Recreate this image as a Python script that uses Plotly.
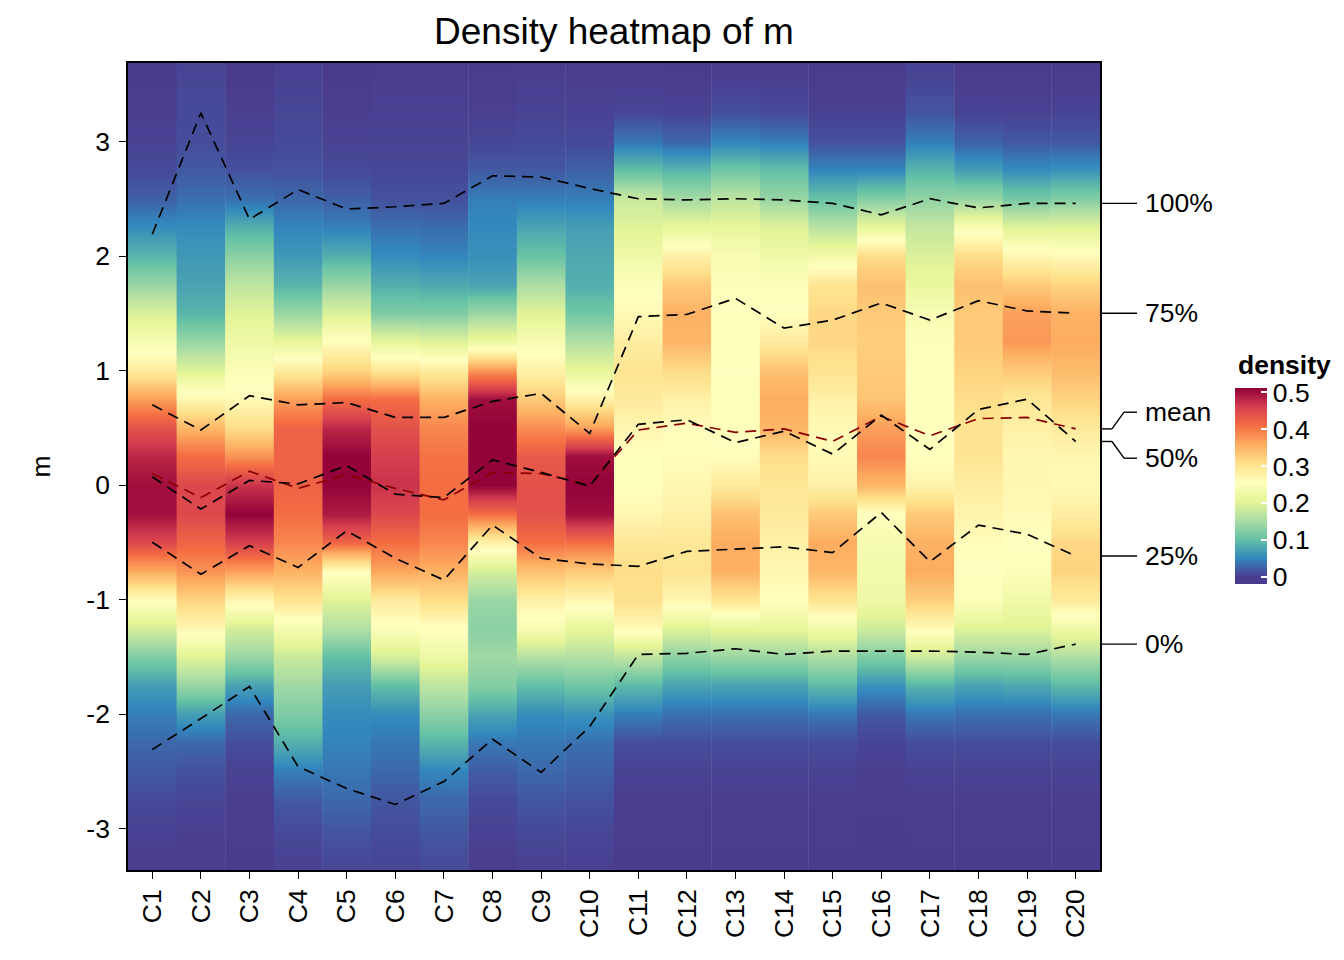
import plotly.graph_objects as go

# ---------------- data ----------------
CATEGORIES = ["C1", "C2", "C3", "C4", "C5", "C6", "C7", "C8", "C9", "C10",
              "C11", "C12", "C13", "C14", "C15", "C16", "C17", "C18", "C19", "C20"]

# density evaluation grid (top -> bottom)
Y_GRID = [3.75, 3.5, 3.25, 3.0, 2.75, 2.5, 2.25, 2.0, 1.75, 1.5,
          1.25, 1.0, 0.75, 0.5, 0.25, 0.0, -0.25, -0.5, -0.75, -1.0,
          -1.25, -1.5, -1.75, -2.0, -2.25, -2.5, -2.75, -3.0, -3.25, -3.5]

c1_density = [0, 0, 0.002, 0.005, 0.01, 0.025, 0.055, 0.09, 0.14, 0.195,
              0.24, 0.29, 0.37, 0.44, 0.48, 0.50, 0.50, 0.45, 0.36, 0.26,
              0.19, 0.12, 0.07, 0.045, 0.03, 0.02, 0.01, 0.005, 0.002, 0]
c2_density = [0.005, 0.008, 0.01, 0.012, 0.02, 0.035, 0.055, 0.065, 0.075, 0.09,
              0.14, 0.2, 0.27, 0.35, 0.41, 0.45, 0.45, 0.42, 0.38, 0.32,
              0.27, 0.20, 0.14, 0.07, 0.03, 0.015, 0.007, 0.003, 0.001, 0]
c3_density = [0, 0, 0.003, 0.006, 0.015, 0.035, 0.085, 0.13, 0.17, 0.2,
              0.225, 0.245, 0.265, 0.31, 0.38, 0.47, 0.51, 0.46, 0.37, 0.27,
              0.19, 0.14, 0.075, 0.03, 0.012, 0.005, 0.002, 0.001, 0, 0]
c4_density = [0.003, 0.005, 0.008, 0.01, 0.015, 0.03, 0.05, 0.065, 0.09, 0.14,
              0.21, 0.29, 0.37, 0.42, 0.42, 0.42, 0.41, 0.39, 0.355, 0.30,
              0.235, 0.18, 0.145, 0.12, 0.085, 0.045, 0.02, 0.01, 0.005, 0.002]
c5_density = [0, 0, 0.002, 0.005, 0.01, 0.025, 0.045, 0.085, 0.14, 0.195,
              0.26, 0.32, 0.41, 0.48, 0.51, 0.51, 0.49, 0.42, 0.26, 0.2,
              0.16, 0.10, 0.07, 0.055, 0.048, 0.04, 0.03, 0.018, 0.01, 0.005]
c6_density = [0, 0.002, 0.004, 0.006, 0.008, 0.015, 0.035, 0.055, 0.085, 0.12,
              0.21, 0.30, 0.41, 0.44, 0.46, 0.47, 0.45, 0.41, 0.365, 0.29,
              0.25, 0.19, 0.10, 0.055, 0.04, 0.03, 0.018, 0.012, 0.008, 0.005]
c7_density = [0, 0.002, 0.004, 0.006, 0.008, 0.015, 0.033, 0.05, 0.08, 0.12,
              0.2, 0.29, 0.355, 0.39, 0.405, 0.41, 0.41, 0.39, 0.355, 0.31,
              0.255, 0.22, 0.17, 0.13, 0.09, 0.05, 0.03, 0.02, 0.012, 0.008]
c8_density = [0, 0.001, 0.003, 0.008, 0.02, 0.045, 0.053, 0.058, 0.075, 0.14,
              0.22, 0.38, 0.5, 0.51, 0.51, 0.51, 0.41, 0.28, 0.19, 0.14,
              0.13, 0.145, 0.125, 0.075, 0.04, 0.022, 0.01, 0.005, 0.002, 0]
c9_density = [0, 0.003, 0.006, 0.01, 0.02, 0.045, 0.075, 0.105, 0.155, 0.2,
              0.24, 0.28, 0.33, 0.385, 0.43, 0.44, 0.44, 0.41, 0.34, 0.28,
              0.24, 0.16, 0.10, 0.055, 0.04, 0.03, 0.018, 0.01, 0.005, 0.002]
c10_density = [0, 0.002, 0.005, 0.01, 0.025, 0.045, 0.07, 0.08, 0.085, 0.11,
               0.16, 0.21, 0.28, 0.37, 0.5, 0.51, 0.50, 0.41, 0.33, 0.27,
               0.21, 0.16, 0.11, 0.06, 0.035, 0.025, 0.015, 0.008, 0.004, 0.002]
c11_density = [0, 0.002, 0.008, 0.04, 0.1, 0.18, 0.2, 0.225, 0.25, 0.265,
               0.285, 0.3, 0.29, 0.27, 0.255, 0.255, 0.27, 0.295, 0.31, 0.305,
               0.265, 0.17, 0.095, 0.045, 0.012, 0.005, 0.002, 0.001, 0, 0]
c12_density = [0, 0.001, 0.006, 0.03, 0.09, 0.15, 0.21, 0.28, 0.33, 0.355,
               0.35, 0.31, 0.28, 0.26, 0.26, 0.27, 0.28, 0.295, 0.30, 0.27,
               0.2, 0.13, 0.075, 0.035, 0.012, 0.005, 0.002, 0.001, 0, 0]
c13_density = [0, 0.003, 0.015, 0.05, 0.11, 0.17, 0.21, 0.24, 0.25, 0.255,
               0.255, 0.255, 0.25, 0.25, 0.26, 0.29, 0.34, 0.36, 0.355, 0.30,
               0.21, 0.14, 0.075, 0.035, 0.012, 0.005, 0.002, 0.001, 0, 0]
c14_density = [0, 0.003, 0.01, 0.045, 0.1, 0.14, 0.2, 0.225, 0.25, 0.255,
               0.29, 0.34, 0.36, 0.35, 0.31, 0.295, 0.29, 0.28, 0.27, 0.255,
               0.21, 0.14, 0.075, 0.035, 0.012, 0.005, 0.002, 0.001, 0, 0]
c15_density = [0, 0.001, 0.004, 0.015, 0.05, 0.105, 0.165, 0.23, 0.3, 0.315,
               0.315, 0.3, 0.28, 0.265, 0.265, 0.28, 0.33, 0.36, 0.35, 0.30,
               0.23, 0.155, 0.095, 0.04, 0.012, 0.005, 0.002, 0.001, 0, 0]
c16_density = [0, 0.001, 0.004, 0.015, 0.05, 0.125, 0.21, 0.31, 0.34, 0.33,
               0.325, 0.33, 0.335, 0.37, 0.39, 0.35, 0.255, 0.235, 0.23, 0.225,
               0.185, 0.12, 0.06, 0.02, 0.006, 0.002, 0.001, 0, 0, 0]
c17_density = [0.004, 0.008, 0.018, 0.045, 0.09, 0.135, 0.175, 0.195, 0.215, 0.24,
               0.25, 0.255, 0.255, 0.255, 0.255, 0.275, 0.33, 0.355, 0.36, 0.325,
               0.265, 0.18, 0.09, 0.04, 0.012, 0.005, 0.002, 0.001, 0, 0]
c18_density = [0, 0.001, 0.006, 0.025, 0.07, 0.14, 0.24, 0.31, 0.34, 0.33,
               0.33, 0.32, 0.31, 0.3, 0.3, 0.285, 0.275, 0.26, 0.255, 0.25,
               0.2, 0.14, 0.075, 0.035, 0.012, 0.005, 0.002, 0.001, 0, 0]
c19_density = [0, 0.001, 0.005, 0.02, 0.055, 0.115, 0.2, 0.27, 0.33, 0.37,
               0.375, 0.33, 0.295, 0.28, 0.27, 0.27, 0.265, 0.255, 0.25, 0.225,
               0.2, 0.14, 0.08, 0.035, 0.012, 0.005, 0.002, 0.001, 0, 0]
c20_density = [0, 0.001, 0.006, 0.02, 0.06, 0.125, 0.2, 0.265, 0.32, 0.355,
               0.36, 0.345, 0.32, 0.29, 0.27, 0.265, 0.285, 0.315, 0.32, 0.29,
               0.225, 0.155, 0.095, 0.04, 0.012, 0.005, 0.002, 0.001, 0, 0]

q100 = [2.19, 3.25, 2.32, 2.58, 2.41, 2.43, 2.46, 2.70, 2.69, 2.59,
        2.50, 2.49, 2.50, 2.49, 2.46, 2.36, 2.50, 2.42, 2.46, 2.46]
q75 = [0.70, 0.48, 0.78, 0.70, 0.72, 0.59, 0.59, 0.73, 0.80, 0.45,
       1.47, 1.49, 1.63, 1.37, 1.44, 1.59, 1.44, 1.61, 1.52, 1.50]
q50 = [0.07, -0.21, 0.04, 0.01, 0.17, -0.08, -0.11, 0.22, 0.11, -0.01,
       0.53, 0.57, 0.37, 0.47, 0.27, 0.61, 0.31, 0.66, 0.75, 0.38]
mean_vals = [0.10, -0.11, 0.12, -0.03, 0.09, -0.03, -0.13, 0.11, 0.10, 0.00,
             0.48, 0.54, 0.46, 0.49, 0.38, 0.60, 0.43, 0.58, 0.59, 0.49]
q25 = [-0.50, -0.78, -0.53, -0.72, -0.40, -0.64, -0.83, -0.35, -0.64, -0.69,
       -0.71, -0.58, -0.56, -0.54, -0.59, -0.24, -0.67, -0.35, -0.43, -0.62]
q0 = [-2.31, -2.04, -1.76, -2.46, -2.65, -2.79, -2.59, -2.22, -2.51, -2.11,
      -1.48, -1.47, -1.43, -1.48, -1.45, -1.45, -1.45, -1.46, -1.48, -1.39]

Y_TICKS = [-3, -2, -1, 0, 1, 2, 3]
LEGEND_TICKS = [0, 0.1, 0.2, 0.3, 0.4, 0.5]
DENSITY_MAX = 0.512

# ---------------- styling ----------------
FONT = "Liberation Sans, Arial, Helvetica, sans-serif"
FS = 26.5
OFF = 8                       # page body margin of the html page
W, H = 1344 - OFF, 960 - OFF  # figure size
# plot-area edges in screen pixels
L, R, T, B = 128, 1100, 63, 870
PW, PH = R - L, B - T
Y_LO, Y_HI = -3.3624, 3.6856
LEG_LO = -0.019

PALETTE = ["#4B3B8F", "#3288BD", "#66C2A5", "#ABDDA4", "#E6F598", "#FFFFBF",
           "#FEE08B", "#FDAE61", "#F46D43", "#D53E4F", "#900038"]


def px_x(px):
    return (px - L) / PW


def px_y(py):
    return (B - py) / PH


colorscale = [[0.0, PALETTE[0]]]
for k, c in enumerate(PALETTE):
    v = k * DENSITY_MAX / 10
    colorscale.append([(v - LEG_LO) / (DENSITY_MAX - LEG_LO), c])
colorscale[-1][0] = 1.0

density_cols = [c1_density, c2_density, c3_density, c4_density, c5_density,
                c6_density, c7_density, c8_density, c9_density, c10_density,
                c11_density, c12_density, c13_density, c14_density, c15_density,
                c16_density, c17_density, c18_density, c19_density, c20_density]

fig = go.Figure()

for i, col in enumerate(density_cols):
    fig.add_trace(go.Heatmap(
        x=[i - 0.5, i, i + 0.5],
        y=Y_GRID[::-1],
        z=[[d, d] for d in col[::-1]],
        coloraxis="coloraxis",
        zsmooth="best",
        hoverinfo="skip",
        showlegend=False,
    ))

xs = list(range(len(CATEGORIES)))
dash = "11px,7px"
fig.add_trace(go.Scatter(x=xs, y=mean_vals, mode="lines",
                         line=dict(color="#8B0000", width=1.7, dash=dash),
                         showlegend=False, hoverinfo="skip"))
for q in [q0, q25, q50, q75, q100]:
    fig.add_trace(go.Scatter(x=xs, y=q, mode="lines",
                             line=dict(color="black", width=1.7, dash=dash),
                             showlegend=False, hoverinfo="skip"))

# ---------------- right-side labels ----------------
labels = [("100%", q100[-1]), ("75%", q75[-1]), ("mean", mean_vals[-1]),
          ("50%", q50[-1]), ("25%", q25[-1]), ("0%", q0[-1])]
ppu = PH / (Y_HI - Y_LO)
min_gap = 46 / ppu
pos = [v for _, v in labels]
for _ in range(50):
    for j in range(len(pos) - 1):
        gap = pos[j] - pos[j + 1]
        if gap < min_gap:
            shift = (min_gap - gap) / 2
            pos[j] += shift
            pos[j + 1] -= shift

shapes = []
annotations = []
xa, xb, xc, xd = px_x(1100), px_x(1112), px_x(1124), px_x(1137)
for (name, anchor), ly in zip(labels, pos):
    line = dict(color="black", width=1.4)
    if abs(anchor - ly) < 1e-6:
        shapes.append(dict(type="line", xref="paper", yref="y", x0=xa, x1=xd,
                           y0=anchor, y1=anchor, line=line))
    else:
        shapes.append(dict(type="line", xref="paper", yref="y", x0=xa, x1=xb,
                           y0=anchor, y1=anchor, line=line))
        shapes.append(dict(type="line", xref="paper", yref="y", x0=xb, x1=xc,
                           y0=anchor, y1=ly, line=line))
        shapes.append(dict(type="line", xref="paper", yref="y", x0=xc, x1=xd,
                           y0=ly, y1=ly, line=line))
    annotations.append(dict(text=name, xref="paper", yref="y", x=px_x(1143), y=ly,
                            xanchor="left", yanchor="middle", showarrow=False,
                            font=dict(family=FONT, size=FS, color="black")))

# legend left-edge white ticks
BAR_TOP, BAR_LEN, BAR_X = 388, 196, 1235
for v in LEGEND_TICKS:
    py = BAR_TOP + (DENSITY_MAX - v) / (DENSITY_MAX - LEG_LO) * BAR_LEN
    shapes.append(dict(type="line", xref="paper", yref="paper",
                       x0=px_x(BAR_X), x1=px_x(BAR_X + 6), y0=px_y(py), y1=px_y(py),
                       line=dict(color="white", width=1.5)))

annotations.append(dict(text="<b>density</b>", xref="paper", yref="paper",
                        x=px_x(1236), y=px_y(365), xanchor="left", yanchor="middle",
                        showarrow=False, font=dict(family=FONT, size=FS, color="black")))
annotations.append(dict(text="m", xref="paper", yref="paper", x=px_x(40), y=0.5,
                        xanchor="center", yanchor="middle", textangle=-90,
                        showarrow=False, font=dict(family=FONT, size=FS, color="black")))

axis_common = dict(showline=True, mirror=True, linecolor="black", linewidth=1.5,
                   ticks="outside", ticklen=7, tickwidth=1.3, tickcolor="black",
                   showgrid=False, zeroline=False,
                   tickfont=dict(family=FONT, size=FS, color="black"))

fig.update_layout(
    width=W, height=H,
    margin=dict(l=L - OFF, r=1344 - R, t=T - OFF, b=960 - B, autoexpand=False),
    paper_bgcolor="white", plot_bgcolor="white",
    title=dict(text="Density heatmap of m", x=0.5, xref="paper", xanchor="center",
               y=1 - (31 - OFF) / H, yref="container", yanchor="middle",
               font=dict(family=FONT, size=37, color="black")),
    xaxis=dict(range=[-0.5, len(CATEGORIES) - 0.5], tickvals=xs, ticktext=CATEGORIES,
               tickangle=-90, **axis_common),
    yaxis=dict(range=[Y_LO, Y_HI], tickvals=Y_TICKS, ticklabelstandoff=4,
               ticktext=[str(t) for t in Y_TICKS], **axis_common),
    coloraxis=dict(
        colorscale=colorscale, cmin=LEG_LO, cmax=DENSITY_MAX,
        colorbar=dict(
            x=px_x(BAR_X), xanchor="left", xpad=0, ypad=0,
            y=px_y(BAR_TOP), yanchor="top",
            lenmode="pixels", len=BAR_LEN, thicknessmode="pixels", thickness=32,
            outlinewidth=0,
            tickvals=LEGEND_TICKS, ticktext=[str(t) for t in LEGEND_TICKS],
            ticks="inside", ticklen=6, tickcolor="white", tickwidth=1.5,
            tickfont=dict(family=FONT, size=FS, color="black"),
        ),
    ),
    shapes=shapes,
    annotations=annotations,
    font=dict(family=FONT, color="black"),
)

fig.write_html("out.html")
